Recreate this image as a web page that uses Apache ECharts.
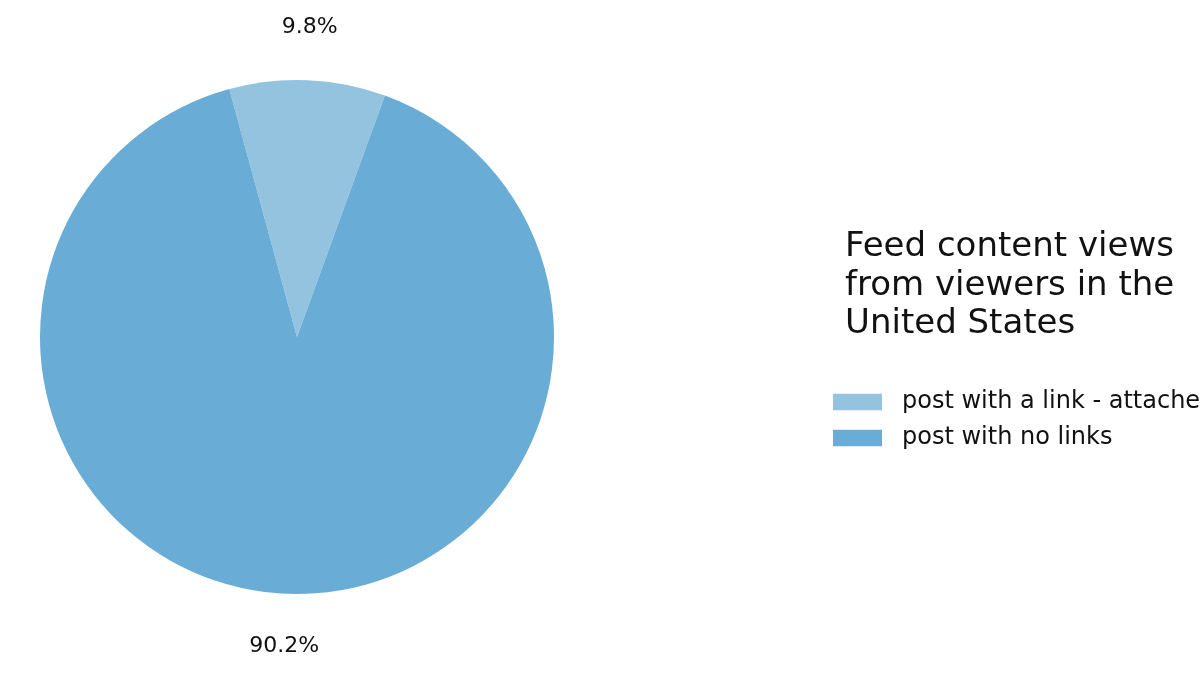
<!DOCTYPE html>
<html>
<head>
<meta charset="utf-8">
<script src="https://cdn.jsdelivr.net/npm/echarts@6/dist/echarts.min.js"></script>
<style>html,body{margin:0;padding:0;background:#fff;}#c{width:1200px;height:675px;}</style>
</head>
<body>
<div id="c"></div>
<script>
const categories = ["post with a link - attached", "post with no links"];
const values = [9.8, 90.2];
const labels = ["9.8%", "90.2%"];
const colors = ["#93c3df", "#69add6"];
const titleText = "Feed content views\nfrom viewers in the\nUnited States";

const chart = echarts.init(document.getElementById('c'));
const font = "'DejaVu Sans', sans-serif";
chart.setOption({
  animation: false,
  backgroundColor: '#fff',
  title: {
    text: titleText,
    left: 840, top: 223,
    textStyle: { fontFamily: font, fontSize: 34, fontWeight: 'normal', color: '#111', lineHeight: 38.5 }
  },
  legend: {
    orient: 'vertical',
    left: 828, top: 385,
    itemWidth: 49, itemHeight: 16.5, itemGap: 12,
    icon: 'rect',
    data: categories,
    textStyle: { fontFamily: font, fontSize: 24, color: '#111', padding: [0,0,0,15] }
  },
  series: [
    {
      type: 'pie',
      center: [297, 337],
      radius: [0, 257],
      startAngle: 70,
      clockwise: false,
      silent: true,
      label: { show: false },
      labelLine: { show: false },
      data: categories.map((n, i) => ({ name: n, value: values[i], itemStyle: { color: colors[i] } }))
    },
    {
      type: 'pie',
      center: [297, 337],
      radius: [292, 322],
      startAngle: 70,
      clockwise: false,
      silent: true,
      itemStyle: { color: 'rgba(0,0,0,0)' },
      label: {
        show: true, position: 'inside',
        fontFamily: font, fontSize: 22, color: '#111',
        formatter: p => labels[p.dataIndex]
      },
      labelLine: { show: false },
      data: categories.map((n, i) => ({
        name: n, value: values[i],
        label: i === 0 ? { padding: [8, 0, 0, 0] } : {}
      }))
    }
  ]
});
</script>
</body>
</html>
